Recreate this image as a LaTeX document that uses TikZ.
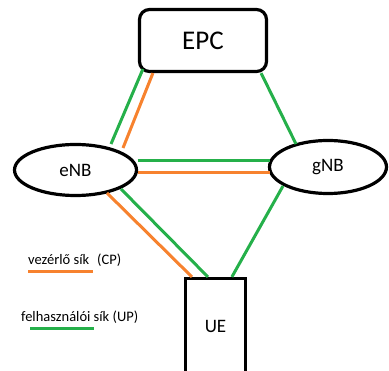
\documentclass[tikz,border=0pt]{standalone}
\usepackage{fontspec}
\setmainfont{Carlito}
\usetikzlibrary{shapes.geometric,calc}
\definecolor{cpcol}{HTML}{F7822E}
\definecolor{upcol}{HTML}{25B04A}
\begin{document}
\begin{tikzpicture}[x=1pt,y=-1pt,
  outline/.style={draw=black,line width=3.2pt,inner sep=0pt},
  core/.style={outline,rounded corners=10pt,minimum width=127pt,minimum height=62pt,font=\fontsize{27}{30}\selectfont},
  station/.style={outline,ellipse,font=\fontsize{19}{21}\selectfont},
  terminal/.style={outline,minimum width=60pt,minimum height=96pt,font=\fontsize{19}{21}\selectfont},
  cp/.style={draw=cpcol,line width=3pt},
  up/.style={draw=upcol,line width=3pt},
  legend/.style={anchor=base west,inner sep=0pt,font=\fontsize{14.5}{16}\selectfont}
]
\clip (0,0) rectangle (389,371);

% network elements
\node[core] (epc) at (203,40.5) {EPC};
\node[station,minimum width=122pt,minimum height=51pt] (enb) at (75.5,170) {eNB};
\node[station,minimum width=117pt,minimum height=53pt] (gnb) at (328,167) {gNB};
\node[terminal] (ue) at (215.5,326.5) {UE};

% EPC -- eNB
\draw[up] ($(epc.south west)+(5,-4)$) -- ($(enb)+(35.5,-26)$);
\draw[cp] ($(epc.south west)+(15,0)$) -- ($(enb)+(47.5,-22)$);
% EPC -- gNB
\draw[up] ($(epc.south east)+(-7,0)$) -- ($(gnb)+(-32,-23)$);
% eNB -- gNB
\draw[up] ($(enb)+(62,-9)$) -- ($(gnb)+(-58,-6)$);
\draw[cp] ($(enb)+(62,3)$) -- ($(gnb)+(-58,6)$);
% eNB -- UE
\draw[cp] ($(enb)+(31.5,23)$) -- ($(ue.north west)+(8,0)$);
\draw[up] ($(enb)+(45.5,19)$) -- ($(ue.north west)+(24,0)$);
% gNB -- UE
\draw[up] ($(gnb)+(-45,19)$) -- ($(ue.north west)+(48,0)$);

% legend
\node[legend] (cptext) at (28,265) {vezérlő sík};
\node[legend] (cpabbr) at (97,265) {(CP)};
\draw[cp] ($(cptext.base west)+(0,7)$) -- ($(cptext.base west)+(65,7)$);
\node[legend] (uptext) at (21,322) {felhasználói sík (UP)};
\draw[up] ($(uptext.base west)+(9,7)$) -- ($(uptext.base west)+(73,7)$);
\end{tikzpicture}
\end{document}
